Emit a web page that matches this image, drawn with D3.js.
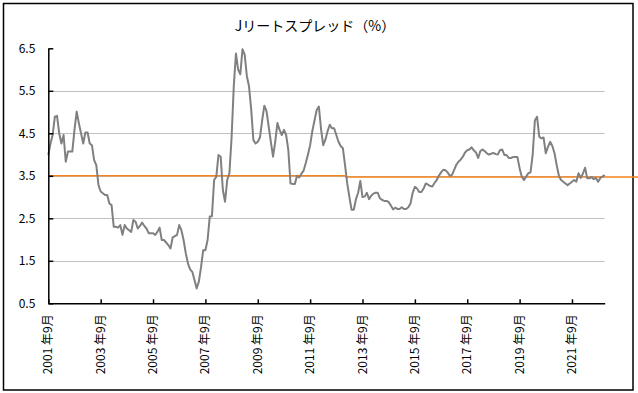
<!DOCTYPE html>
<html>
<head>
<meta charset="utf-8">
<script src="https://cdn.jsdelivr.net/npm/d3@7"></script>
<style>
  html, body { margin: 0; padding: 0; background: #fff; }
  svg { display: block; }
  text { font-family: "Noto Sans CJK JP", "Noto Sans", sans-serif; fill: #000; }
</style>
</head>
<body>
<div id="chart"></div>
<script>
// 月次データ：2001年9月〜2022年12月
const startYear = 2001, startMonth = 9;
const spread = [
  3.99, 4.26, 4.46, 4.89,                                                 // 2001
  4.91, 4.50, 4.26, 4.46, 3.83, 4.07, 4.07, 4.07, 4.58, 5.01, 4.74, 4.50, // 2002
  4.26, 4.52, 4.52, 4.26, 4.22, 3.87, 3.75, 3.28, 3.13, 3.09, 3.05, 3.05, // 2003
  2.85, 2.81, 2.30, 2.30, 2.28, 2.34, 2.11, 2.34, 2.26, 2.22, 2.18, 2.46, // 2004
  2.42, 2.26, 2.32, 2.40, 2.32, 2.26, 2.15, 2.15, 2.15, 2.11, 2.18, 2.28, // 2005
  1.99, 1.99, 1.93, 1.87, 1.79, 2.05, 2.08, 2.11, 2.34, 2.22, 1.99, 1.68, // 2006
  1.44, 1.30, 1.24, 1.05, 0.85, 1.01, 1.35, 1.75, 1.75, 1.99, 2.54, 2.55, // 2007
  3.40, 3.48, 3.99, 3.95, 3.17, 2.89, 3.40, 3.56, 4.40, 5.60, 6.38, 6.00, // 2008
  5.89, 6.48, 6.35, 5.85, 5.60, 5.05, 4.34, 4.26, 4.30, 4.40, 4.80, 5.15, // 2009
  5.02, 4.66, 4.30, 3.95, 4.30, 4.74, 4.58, 4.46, 4.58, 4.46, 4.11, 3.32, // 2010
  3.31, 3.31, 3.50, 3.46, 3.55, 3.62, 3.80, 4.00, 4.22, 4.55, 4.80, 5.05, // 2011
  5.13, 4.60, 4.22, 4.35, 4.55, 4.70, 4.62, 4.62, 4.46, 4.30, 4.20, 4.15, // 2012
  3.75, 3.32, 3.00, 2.70, 2.70, 2.95, 3.10, 3.38, 3.00, 3.01, 3.10, 2.95, // 2013
  3.03, 3.08, 3.10, 3.10, 2.97, 2.93, 2.91, 2.91, 2.88, 2.80, 2.71, 2.75, // 2014
  2.72, 2.72, 2.76, 2.72, 2.72, 2.76, 2.85, 3.10, 3.24, 3.20, 3.12, 3.12, // 2015
  3.20, 3.32, 3.29, 3.26, 3.25, 3.33, 3.40, 3.50, 3.58, 3.64, 3.63, 3.58, // 2016
  3.50, 3.52, 3.64, 3.76, 3.83, 3.88, 3.95, 4.05, 4.10, 4.12, 4.17, 4.10, // 2017
  4.05, 3.92, 4.08, 4.12, 4.08, 4.03, 4.00, 4.02, 4.04, 4.01, 4.00, 4.10, // 2018
  4.12, 3.99, 3.99, 3.92, 3.92, 3.94, 3.94, 3.94, 3.68, 3.48, 3.40, 3.48, // 2019
  3.56, 3.58, 4.00, 4.80, 4.89, 4.42, 4.38, 4.40, 4.03, 4.18, 4.30, 4.20, // 2020
  4.03, 3.75, 3.50, 3.40, 3.36, 3.32, 3.28, 3.32, 3.36, 3.40, 3.36, 3.56, // 2021
  3.45, 3.55, 3.69, 3.44, 3.44, 3.47, 3.42, 3.45, 3.36, 3.45, 3.48, 3.52  // 2022
];

// 平均線（前半・後半）
const avgValues = [3.5, 3.47];
const avgBreak = 136;

const yTicks = [0.5, 1.5, 2.5, 3.5, 4.5, 5.5, 6.5];
const gridValues = [1.5, 2.5, 3.5, 4.5, 5.5];
const tickIdx = [0, 24, 48, 72, 96, 120, 144, 168, 192, 216, 240];
const tickLabels = ["2001 年9月", "2003 年9月", "2005 年9月", "2007 年9月", "2009 年9月",
  "2011 年9月", "2013 年9月", "2015 年9月", "2017 年9月", "2019 年9月", "2021 年9月"];

const width = 638, height = 393;
const margin = { left: 48.3, right: 604.7, top: 48.3, bottom: 303.3 };

const svg = d3.select("#chart").append("svg")
  .attr("width", width)
  .attr("height", height);

// 外枠
svg.append("rect")
  .attr("x", 3.5).attr("y", 3.5)
  .attr("width", 629.5).attr("height", 386.5)
  .attr("fill", "#fff")
  .attr("stroke", "#000")
  .attr("stroke-width", 1.5);

const x = d3.scaleLinear().domain([0, spread.length - 1]).range([margin.left, margin.right]);
const y = d3.scaleLinear().domain([0.5, 6.5]).range([margin.bottom, margin.top]);

// タイトル
svg.append("text")
  .attr("x", 315).attr("y", 31)
  .attr("text-anchor", "middle")
  .style("font-size", "14px")
  .text("Jリートスプレッド（%）");

// 目盛線
svg.append("g").selectAll("line")
  .data(gridValues)
  .join("line")
  .attr("x1", margin.left).attr("x2", margin.right)
  .attr("y1", d => Math.round(y(d)) + 0.5).attr("y2", d => Math.round(y(d)) + 0.5)
  .attr("stroke", "#c0c0c0")
  .attr("stroke-width", 1);

// 平均線
const avgSegs = [
  { from: 0, to: x(avgBreak), v: avgValues[0] },
  { from: avgBreak, to: width, v: avgValues[1] }
];
svg.append("g").selectAll("line")
  .data(avgSegs)
  .join("line")
  .attr("x1", d => x(d.from))
  .attr("x2", d => d.to)
  .attr("y1", d => y(d.v)).attr("y2", d => y(d.v))
  .attr("stroke", "#f5821f")
  .attr("stroke-width", 1.5);

// スプレッド
const line = d3.line()
  .x((d, i) => x(i))
  .y(d => y(d));

svg.append("path")
  .datum(spread)
  .attr("fill", "none")
  .attr("stroke", "#808080")
  .attr("stroke-width", 2)
  .attr("stroke-linejoin", "round")
  .attr("d", line);

// Y軸
const yAxis = svg.append("g")
  .attr("transform", `translate(${margin.left},0)`)
  .call(d3.axisLeft(y).tickValues(yTicks).tickFormat(d3.format(".1f"))
    .tickSizeInner(-5).tickSizeOuter(0).tickPadding(13));
yAxis.selectAll("text").style("font-size", "12px").attr("font-family", null);
yAxis.select(".domain").attr("stroke-width", 1.5);
yAxis.selectAll(".tick line").attr("stroke-width", 1.5);

// X軸
const xAxis = svg.append("g")
  .attr("transform", `translate(0,${margin.bottom})`)
  .call(d3.axisBottom(x).tickValues(tickIdx).tickFormat((d, i) => tickLabels[i])
    .tickSizeInner(-4).tickSizeOuter(0));
xAxis.select(".domain").attr("stroke-width", 1.5);
xAxis.selectAll(".tick line").attr("stroke-width", 1.5);
xAxis.selectAll("text")
  .style("font-size", "12px")
  .attr("font-family", null)
  .attr("text-anchor", "end")
  .attr("dy", null)
  .attr("dominant-baseline", "central")
  .attr("transform", "translate(-2,11) rotate(-90)")
  .attr("x", 0).attr("y", 0);
</script>
</body>
</html>
